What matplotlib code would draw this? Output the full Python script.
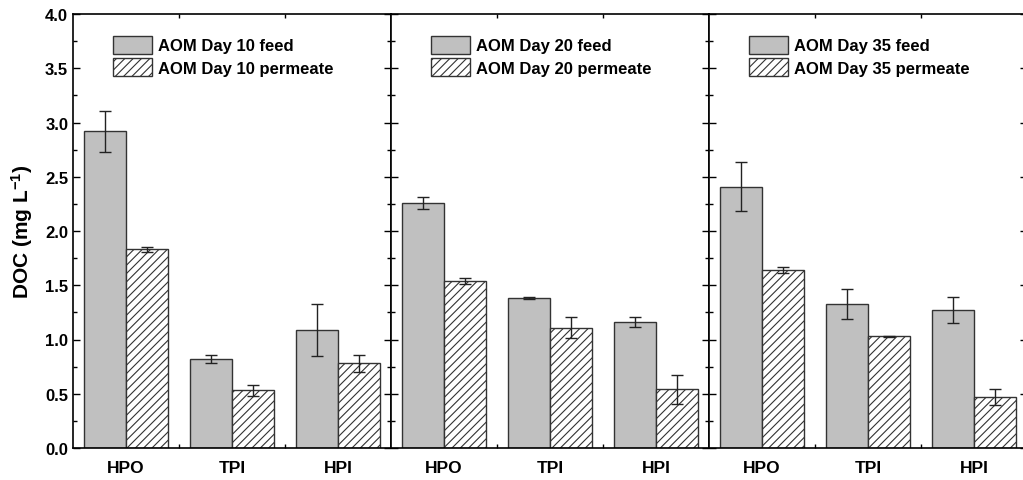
import matplotlib
matplotlib.use("Agg")
import matplotlib.pyplot as plt
import numpy as np
from matplotlib.patches import Patch
from matplotlib.ticker import MultipleLocator, FixedLocator, FormatStrFormatter

plt.rcParams['font.family'] = ['Liberation Sans', 'DejaVu Sans']
plt.rcParams['font.weight'] = 'bold'
plt.rcParams['mathtext.fontset'] = 'custom'
plt.rcParams['mathtext.rm'] = 'Liberation Sans:bold'
plt.rcParams['mathtext.bf'] = 'Liberation Sans:bold'
plt.rcParams['mathtext.default'] = 'bf'
plt.rcParams['hatch.linewidth'] = 0.8

fractions = ['HPO', 'TPI', 'HPI']
days = ['10', '20', '35']

feed = [
    [2.92, 0.82, 1.09],
    [2.26, 1.38, 1.16],
    [2.41, 1.33, 1.27],
]
feed_err = [
    [0.19, 0.035, 0.24],
    [0.055, 0.01, 0.045],
    [0.23, 0.14, 0.12],
]
permeate = [
    [1.83, 0.53, 0.78],
    [1.54, 1.11, 0.54],
    [1.64, 1.03, 0.47],
]
permeate_err = [
    [0.025, 0.05, 0.077],
    [0.03, 0.10, 0.137],
    [0.03, 0.005, 0.077],
]

fig = plt.figure(figsize=(10.23, 4.81), dpi=100)

left = 73 / 1023
width = 318 / 1023
bottom = 1 - 449 / 481
height = (449 - 15) / 481

x = np.arange(len(fractions)) + 0.5
w = 0.4

for i in range(3):
    ax = fig.add_axes([left + i * width, bottom, width, height])

    ax.bar(x - w / 2, feed[i], w, color='#c0c0c0', edgecolor='#333333',
           linewidth=1.0)
    ax.bar(x + w / 2, permeate[i], w, color='white', edgecolor='#333333',
           hatch='////', linewidth=1.0)
    ax.errorbar(x - w / 2, feed[i], yerr=feed_err[i], fmt='none',
                ecolor='#222222', elinewidth=1.0, capsize=4, capthick=1.0)
    ax.errorbar(x + w / 2, permeate[i], yerr=permeate_err[i], fmt='none',
                ecolor='#222222', elinewidth=1.0, capsize=4, capthick=1.0)

    ax.set_xlim(0, 3)
    ax.set_ylim(0, 4.0)
    ax.xaxis.set_major_locator(FixedLocator(x))
    ax.set_xticklabels(fractions, fontsize=12.5, fontweight='bold')
    ax.xaxis.set_minor_locator(FixedLocator([1, 2]))
    ax.yaxis.set_major_locator(MultipleLocator(0.5))
    ax.yaxis.set_minor_locator(MultipleLocator(0.25))
    ax.yaxis.set_major_formatter(FormatStrFormatter('%.1f'))
    ax.tick_params(which='both', direction='in', top=True, right=True,
                   width=1.0)
    ax.tick_params(which='major', length=5)
    ax.tick_params(which='minor', length=3)
    ax.tick_params(axis='x', which='major', length=0, pad=9)
    for s in ax.spines.values():
        s.set_linewidth(1.2)

    if i == 0:
        for lab in ax.get_yticklabels():
            lab.set_fontsize(12)
            lab.set_fontweight('bold')
        ax.set_ylabel('DOC (mg L$^{-1}$)', fontsize=15,
                      fontweight='bold', labelpad=7)
    else:
        ax.tick_params(labelleft=False)

    handles = [Patch(facecolor='#c0c0c0', edgecolor='#333333'),
               Patch(facecolor='white', edgecolor='#333333', hatch='////')]
    ax.legend(handles, ['AOM Day %s feed' % days[i],
                        'AOM Day %s permeate' % days[i]],
              loc='upper left', bbox_to_anchor=(0.08, 0.985),
              frameon=False, handlelength=2.3, handleheight=1.3,
              handletextpad=0.4, labelspacing=0.25,
              prop={'weight': 'bold', 'size': 12})

fig.savefig('out.png', dpi=100)
